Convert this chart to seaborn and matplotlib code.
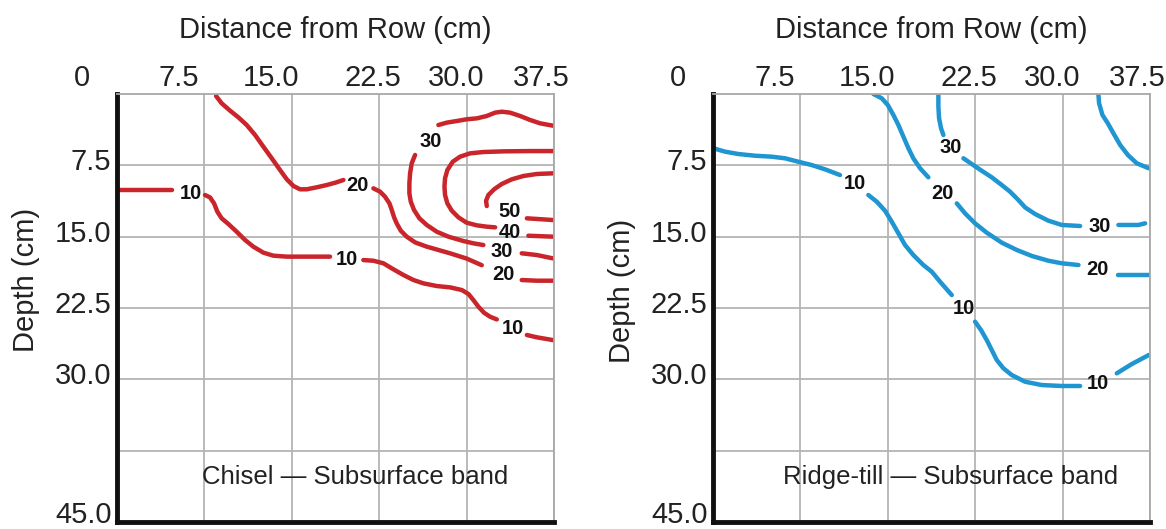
import numpy as np
import pandas as pd
import matplotlib
matplotlib.use("Agg")
import matplotlib.pyplot as plt
import seaborn as sns

# ------------------------------------------------------------
# Axes ticks
# ------------------------------------------------------------
x_ticks = [0, 7.5, 15.0, 22.5, 30.0, 37.5]
x_tick_labels = ["0", "7.5", "15.0", "22.5", "30.0", "37.5"]
y_ticks = [7.5, 15.0, 22.5, 30.0, 37.5, 45.0]
y_tick_labels = ["7.5", "15.0", "22.5", "30.0", "", "45.0"]

# ------------------------------------------------------------
# Chisel isolines (x = distance from row, y = depth), one list per level,
# each broken in pieces where the inline label sits
# ------------------------------------------------------------
chisel_10 = [
    [(0.0, 10.1), (4.7, 10.1)],
    [(7.55, 10.62), (7.98, 10.87), (8.33, 11.5), (8.61, 12.37), (8.98, 13.07),
     (9.56, 13.67), (10.27, 14.48), (10.99, 15.35), (11.7, 16.05),
     (12.56, 16.68), (13.42, 17.0), (14.56, 17.1), (18.28, 17.1)],
    [(21.14, 17.46), (22.0, 17.53), (22.86, 17.8), (23.72, 18.43), (24.58, 19.03),
     (25.44, 19.56), (26.3, 19.91), (27.44, 20.19), (28.58, 20.33),
     (29.59, 20.61), (30.16, 21.03), (30.58, 21.66), (31.01, 22.36),
     (31.5, 23.0), (32.02, 23.42), (32.59, 23.7)],
    [(35.17, 25.34), (36.02, 25.58), (37.4, 25.87)],
]
chisel_20 = [
    [(8.5, 0.21), (8.98, 0.98), (9.7, 1.75), (10.41, 2.45), (11.13, 3.26),
     (11.85, 4.31), (12.56, 5.54), (13.28, 6.76), (13.99, 7.99), (14.57, 8.97),
     (15.14, 9.67), (15.71, 10.02), (16.28, 10.02), (17.14, 9.81), (18.0, 9.57),
     (18.8, 9.3), (19.43, 9.04)],
    [(22.0, 9.92), (22.58, 10.27), (23.0, 10.8), (23.38, 11.5), (23.58, 12.2),
     (23.78, 12.97), (24.0, 13.6), (24.35, 14.37), (24.86, 15.0), (25.58, 15.6),
     (26.58, 16.05), (27.58, 16.4), (28.58, 16.75), (30.0, 17.3), (31.3, 18.0)],
    [(34.73, 19.56), (36.02, 19.63), (37.4, 19.63)],
]
chisel_30 = [
    [(37.4, 3.33), (36.3, 3.08), (35.45, 2.73), (34.59, 2.31), (33.73, 1.96),
     (33.02, 1.86), (32.45, 1.96), (31.73, 2.31), (30.88, 2.56), (30.0, 2.66),
     (29.16, 2.84), (28.3, 3.01), (27.58, 3.26)],
    [(25.58, 6.41), (25.29, 7.29), (25.15, 8.34), (25.09, 9.39), (25.09, 10.44),
     (25.21, 11.32), (25.49, 12.2), (25.95, 13.07), (26.58, 13.77),
     (27.44, 14.48), (28.44, 15.0), (29.73, 15.46), (30.58, 15.7), (31.44, 15.88)],
    [(34.73, 16.75), (36.02, 16.93), (37.4, 17.28)],
]
chisel_40 = [
    [(37.4, 6.0), (35.45, 6.0), (33.16, 6.03), (31.44, 6.1), (30.3, 6.24),
     (29.44, 6.59), (28.81, 7.12), (28.35, 7.99), (28.15, 8.87), (28.1, 9.74),
     (28.15, 10.62), (28.35, 11.5), (28.73, 12.27), (29.3, 12.97), (30.0, 13.53),
     (30.88, 13.81), (31.73, 13.95), (32.45, 14.02)],
    [(35.3, 14.9), (37.4, 15.0)],
]
chisel_50 = [
    [(37.4, 8.34), (36.02, 8.41), (34.88, 8.62), (33.88, 8.97), (33.02, 9.46),
     (32.36, 10.02), (31.87, 10.62), (31.67, 11.22), (31.73, 11.78)],
    [(35.17, 13.07), (37.4, 13.25)],
]
chisel_lab_x = [6.3, 20.6, 19.7, 26.9, 33.7, 33.7, 33.0, 33.2, 34.0]
chisel_lab_y = [10.5, 9.6, 17.4, 5.0, 12.4, 14.6, 16.6, 19.0, 24.7]
chisel_lab_txt = ["10", "20", "10", "30", "50", "40", "30", "20", "10"]

# ------------------------------------------------------------
# Ridge-till isolines
# ------------------------------------------------------------
ridge_10 = [
    [(0.03, 5.71), (1.03, 6.06), (2.17, 6.31), (3.61, 6.49), (5.04, 6.59),
     (6.18, 6.76), (7.32, 7.12), (8.47, 7.47), (9.61, 7.92), (10.9, 8.52)],
    [(13.33, 10.62), (14.05, 11.32), (14.76, 12.27), (15.34, 13.43),
     (15.91, 14.65), (16.48, 15.88), (17.19, 16.93), (18.05, 17.98),
     (18.77, 18.68), (19.48, 19.73), (20.06, 20.54), (20.49, 21.14)],
    [(22.49, 23.94), (23.0, 24.82), (23.49, 25.87), (23.92, 26.92),
     (24.35, 27.97), (24.92, 28.84), (25.64, 29.55), (26.78, 30.25),
     (28.21, 30.6), (29.93, 30.7), (31.5, 30.7)],
    [(34.65, 29.37), (35.94, 28.39), (37.4, 27.44)],
]
ridge_20 = [
    [(13.76, 0.0), (14.48, 0.45), (15.0, 1.16), (15.48, 2.21), (15.91, 3.26),
     (16.34, 4.49), (16.77, 5.71), (17.19, 6.76), (17.77, 7.81), (18.48, 8.76)],
    [(20.92, 11.5), (21.63, 12.55), (22.49, 13.6), (23.49, 14.58),
     (24.78, 15.63), (26.07, 16.4), (27.36, 17.03), (28.78, 17.53),
     (29.93, 17.8), (31.36, 17.98)],
    [(34.79, 19.03), (37.5, 19.03)],
]
ridge_30 = [
    [(19.34, 0.1), (19.34, 1.33), (19.4, 2.56), (19.57, 3.61), (19.77, 4.31)],
    [(21.49, 6.76), (22.2, 7.36), (23.06, 8.07), (23.92, 8.76), (24.78, 9.57),
     (25.49, 10.27), (26.21, 11.15), (26.78, 11.92), (27.64, 12.62),
     (28.78, 13.32), (29.93, 13.77), (31.5, 13.88)],
    [(34.79, 13.77), (36.5, 13.77), (37.08, 13.6)],
]
ridge_40 = [
    [(33.07, 0.0), (33.13, 0.98), (33.42, 2.21), (33.88, 3.08), (34.36, 4.13),
     (34.94, 5.36), (35.6, 6.41), (36.37, 7.29), (37.4, 7.81)],
]
ridge_lab_x = [12.2, 21.5, 33.0, 19.7, 33.0, 20.4, 33.2]
ridge_lab_y = [9.4, 22.6, 30.4, 10.5, 18.5, 5.6, 13.9]
ridge_lab_txt = ["10", "10", "10", "20", "20", "30", "30"]

RED = "#c9252b"
BLUE = "#1f95d2"
TXT = "#222222"

sns.set_theme(style="white")
plt.rcParams["font.family"] = ["Liberation Sans", "DejaVu Sans"]

fig = plt.figure(figsize=(11.66, 5.29), dpi=100)
ax_l = fig.add_axes([117 / 1166, 7 / 529, 437 / 1166, 428 / 529])
ax_r = fig.add_axes([713 / 1166, 7 / 529, 437 / 1166, 428 / 529])

# decalage (px) des etiquettes, comme sur la figure d'origine
x_lab_shift = [-35, -26, -21, -6, -10, -13]
y_lab_shift = [2.2, 2.2, 2.2, 2.2, 2.2, 5.0]


def draw_panel(ax, levels, lab_x, lab_y, lab_txt, color, caption, ylab_y):
    rows = []
    k = 0
    for pieces in levels:
        for piece in pieces:
            for x, y in piece:
                rows.append((x, y, k))
            k += 1
    df = pd.DataFrame(rows, columns=["x", "y", "piece"])
    sns.lineplot(data=df, x="x", y="y", units="piece", estimator=None,
                 sort=False, color=color, lw=3.2, legend=False, ax=ax,
                 solid_capstyle="round", solid_joinstyle="round")

    for x, y, t in zip(lab_x, lab_y, lab_txt):
        ax.text(x, y, t, ha="center", va="center", fontsize=14.5,
                fontweight="bold", color="#111111")

    ax.set_xlim(0, 37.5)
    ax.set_ylim(45, 0)
    ax.set_xticks(x_ticks)
    ax.set_xticklabels([])
    ax.set_yticks(y_ticks)
    ax.set_yticklabels([])
    ax.tick_params(length=0)
    ax.grid(True, color="#b4b4b4", lw=1.3)
    ax.set_axisbelow(True)

    for v, lab, dx in zip(x_ticks, x_tick_labels, x_lab_shift):
        ax.annotate(lab, xy=(v, 1.0), xycoords=("data", "axes fraction"),
                    xytext=(dx * 0.72, 11.5), textcoords="offset points",
                    ha="center", va="center", fontsize=21, color=TXT)
    for v, lab, dy in zip(y_ticks, y_tick_labels, y_lab_shift):
        ax.annotate(lab, xy=(0.0, v), xycoords=("axes fraction", "data"),
                    xytext=(-4, dy), textcoords="offset points",
                    ha="right", va="center", fontsize=21, color=TXT)

    ax.text(0.5, 1.15, "Distance from Row (cm)", transform=ax.transAxes,
            ha="center", va="center", fontsize=21, color=TXT)
    ax.set_xlabel("")
    ax.set_ylabel("Depth (cm)", fontsize=21, color=TXT)
    ax.yaxis.set_label_coords(-77 / 437, ylab_y)

    ax.text(20.4, 40.3, caption, ha="center", va="center", fontsize=18.5,
            color=TXT)

    for s in ["left", "bottom"]:
        ax.spines[s].set_color("#111111")
        ax.spines[s].set_linewidth(3.5)
    for s in ["top", "right"]:
        ax.spines[s].set_color("#a8a8a8")
        ax.spines[s].set_linewidth(1.3)


draw_panel(ax_l, [chisel_10, chisel_20, chisel_30, chisel_40, chisel_50],
           chisel_lab_x, chisel_lab_y, chisel_lab_txt, RED,
           "Chisel \u2014 Subsurface band", 0.565)
draw_panel(ax_r, [ridge_10, ridge_20, ridge_30, ridge_40],
           ridge_lab_x, ridge_lab_y, ridge_lab_txt, BLUE,
           "Ridge-till \u2014 Subsurface band", 0.54)

fig.savefig("out.png", dpi=100)
